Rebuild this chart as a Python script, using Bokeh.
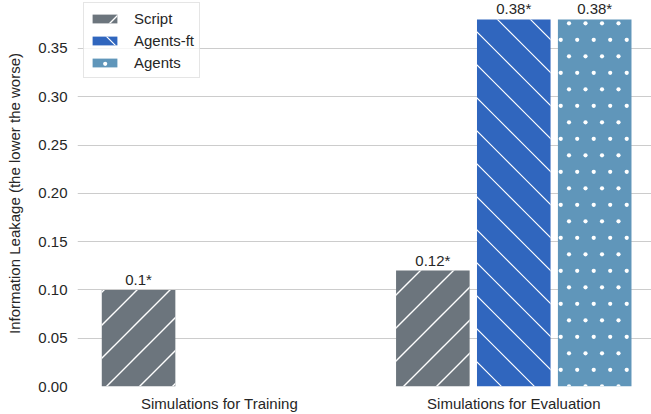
import base64
import numpy as np
from bokeh.plotting import figure
from bokeh.models import (ColumnDataSource, Range1d, FixedTicker, LabelSet,
                          Legend, LegendItem, NumeralTickFormatter, ImageURLTexture)
from bokeh.core.properties import value
from bokeh.embed import file_html
from bokeh.resources import INLINE

categories = ["Simulations for Training", "Simulations for Evaluation"]
series_names = ["Script", "Agents-ft", "Agents"]
script_vals = [0.10, 0.12]
agents_ft_vals = [np.nan, 0.38]
agents_vals = [np.nan, 0.38]
script_labels = ["0.1*", "0.12*"]
agents_ft_labels = ["", "0.38*"]
agents_labels = ["", "0.38*"]
y_ticks = [0.00, 0.05, 0.10, 0.15, 0.20, 0.25, 0.30, 0.35]

colors = ["#6c757d", "#3066be", "#6096ba"]
offsets = [-0.275, 0.0, 0.275]
bar_w = 0.25
TXT = "#262626"
FONT = "Liberation Sans"
FS = "15px"
T = 33  # hatch tile size (px)


def svg_url(body, s=T):
    svg = (f"<svg xmlns='http://www.w3.org/2000/svg' width='{s}' height='{s}' "
           f"viewBox='0 0 {s} {s}'>{body}</svg>")
    return "data:image/svg+xml;base64," + base64.b64encode(svg.encode()).decode()


def fwd_lines(c0, w):
    d = "".join(f"M{c + 3} -3 L{c - T - 3} {T + 3} " for c in (c0 - T, c0, c0 + T))
    return svg_url(f"<path d='{d}' stroke='white' stroke-width='{w}' fill='none'/>")


def back_lines(c0, w):
    d = "".join(f"M-3 {c - 3} L{T + 3} {c + T + 3} " for c in (c0 - T, c0, c0 + T))
    return svg_url(f"<path d='{d}' stroke='white' stroke-width='{w}' fill='none'/>")


def dots(pts, r):
    circles = []
    for cx, cy in pts:
        for dx in (-T, 0, T):
            for dy in (-T, 0, T):
                circles.append(f"<circle cx='{cx + dx}' cy='{cy + dy}' r='{r}' fill='white'/>")
    return svg_url("".join(circles))


textures = {
    "fwd": ImageURLTexture(url=fwd_lines(31, 1.4)),
    "back": ImageURLTexture(url=back_lines(17, 1.2)),
    "dots": ImageURLTexture(url=dots([(8, 23.3), (24.5, 23.3), (16.2, 6.8), (32.7, 6.8)], 2.1)),
}
hatch_names = ["fwd", "back", "dots"]

p = figure(width=651, height=414, output_backend="svg", toolbar_location=None,
           x_range=Range1d(-0.4825, 1.468), y_range=Range1d(0, 0.3996),
           min_border_left=77, min_border_right=0, min_border_top=0,
           min_border_bottom=28)
p.outline_line_color = None
p.background_fill_color = "white"
p.border_fill_color = "white"

renderers = []
for vals, labels, color, hname, off, name in zip(
        [script_vals, agents_ft_vals, agents_vals],
        [script_labels, agents_ft_labels, agents_labels],
        colors, hatch_names, offsets, series_names):
    xs = [i + off for i, v in enumerate(vals) if not np.isnan(v)]
    ys = [v for v in vals if not np.isnan(v)]
    ls = [l for v, l in zip(vals, labels) if not np.isnan(v)]
    src = ColumnDataSource(dict(x=xs, top=ys, label=ls))
    r = p.vbar(x="x", top="top", width=bar_w, source=src, fill_color=color,
               line_color=None, hatch_pattern=value(hname),
               hatch_extra={hname: textures[hname]}, hatch_color="white",
               hatch_scale=T, hatch_weight=1.4)
    renderers.append((name, r))
    lab = LabelSet(x="x", y="top", text="label", source=src, text_align="center",
                   text_baseline="alphabetic", y_offset=5,
                   text_font_size=value(FS), text_color=value(TXT),
                   text_font=value(FONT))
    p.add_layout(lab)

legend = Legend(items=[LegendItem(label=n, renderers=[r]) for n, r in renderers],
                location=(6, 308))
legend.label_text_font_size = FS
legend.label_text_font = FONT
legend.label_text_color = TXT
legend.glyph_width = 31
legend.glyph_height = 11
legend.label_height = 20
legend.label_standoff = 14
legend.padding = 5
legend.spacing = 2
legend.border_line_color = "#cccccc"
legend.background_fill_alpha = 0.8
p.add_layout(legend)

p.xaxis.ticker = FixedTicker(ticks=list(range(len(categories))))
p.xaxis.major_label_overrides = {i: c for i, c in enumerate(categories)}
p.yaxis.ticker = FixedTicker(ticks=y_ticks)
p.yaxis.formatter = NumeralTickFormatter(format="0.00")
p.yaxis.axis_label = "Information Leakage (the lower the worse)"
for ax in (p.xaxis[0], p.yaxis[0]):
    ax.axis_line_color = None
    ax.major_tick_line_color = None
    ax.minor_tick_line_color = None
    ax.major_tick_out = 0
    ax.major_tick_in = 0
    ax.minor_tick_out = 0
    ax.minor_tick_in = 0
    ax.major_label_text_font_size = FS
    ax.major_label_text_font = FONT
    ax.major_label_text_color = TXT
p.xaxis.major_label_standoff = 8
p.xaxis.axis_label_standoff = 0
p.xaxis.axis_label_text_font_size = "0px"
p.yaxis.major_label_standoff = 10
p.yaxis.axis_label_text_font_size = FS
p.yaxis.axis_label_text_font = FONT
p.yaxis.axis_label_text_font_style = "normal"
p.yaxis.axis_label_text_color = TXT
p.yaxis.axis_label_standoff = 12
p.xgrid.grid_line_color = None
p.ygrid.grid_line_color = "#cccccc"
p.ygrid.grid_line_width = 1

open("out.html", "w").write(file_html(p, INLINE))
